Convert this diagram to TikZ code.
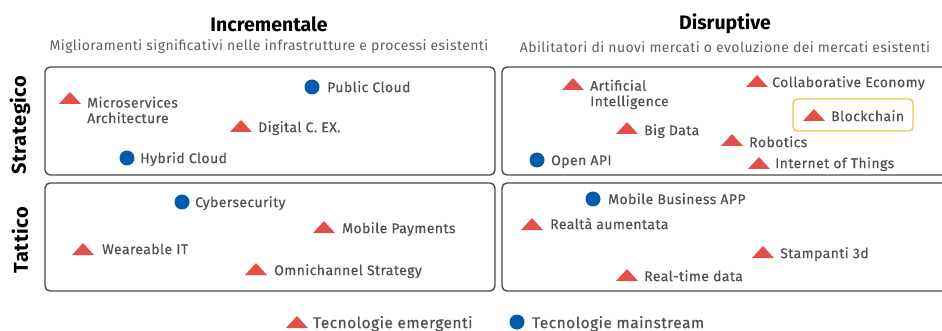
\documentclass[tikz,border=0pt]{standalone}
\usepackage{fontspec}
\setmainfont{Fira Sans}
\newfontfamily\lblfont[LetterSpace=3.0,FakeBold=0.35]{Fira Sans}
\newfontfamily\subfont[LetterSpace=3.0]{Fira Sans}
\newfontfamily\sidefont[LetterSpace=3.0]{Fira Sans}
\definecolor{trired}{HTML}{E2504C}
\definecolor{dotblue}{HTML}{005BAA}
\definecolor{txtgray}{HTML}{505050}
\definecolor{subgray}{HTML}{5E5E5E}
\definecolor{framegray}{HTML}{4A4A4A}
\definecolor{hlyellow}{HTML}{F2C24E}
\tikzset{
  quad/.style={draw=framegray, line width=1.4pt, rounded corners=5pt},
  trimark/.style={rectangle, inner sep=0pt, minimum width=22pt, minimum height=12pt,
    path picture={\fill[trired] (path picture bounding box.south west) -- (path picture bounding box.south east) -- (path picture bounding box.north) -- cycle;}},
  dotmark/.style={circle, fill=dotblue, inner sep=0pt, minimum size=15pt},
  lbl/.style={anchor=mid west, yshift=-2.5pt, inner sep=0pt, text=txtgray, font=\lblfont\fontsize{14}{15.5}\selectfont, align=left},
  lbltwo/.style={anchor=west, inner sep=0pt, text=txtgray, font=\lblfont\fontsize{14}{15.5}\selectfont, align=left},
  title/.style={font=\fontsize{19.5}{22}\selectfont\bfseries, text=black, inner sep=0pt},
  subtitle/.style={font=\subfont\fontsize{14}{16}\selectfont, text=subgray, inner sep=0pt},
  sidelbl/.style={font=\sidefont\fontsize{20}{22}\selectfont\bfseries, text=black, inner sep=0pt, rotate=90},
  hlbox/.style={draw=hlyellow, line width=1.4pt, rounded corners=4pt, minimum width=120pt, minimum height=32pt, inner sep=0pt},
}
\begin{document}
\begin{tikzpicture}[x=1pt,y=-1pt]
\useasboundingbox (0,0) rectangle (942,331);
% headers
\node[title] (hinc) at (269,24) {Incrementale};
\node[subtitle] (sinc) at (269,47) {Miglioramenti significativi nelle infrastrutture e processi esistenti};
\node[title] (hdis) at (725,24) {Disruptive};
\node[subtitle] (sdis) at (725,47) {Abilitatori di nuovi mercati o evoluzione dei mercati esistenti};
\node[sidelbl] (sstr) at (20,125) {Strategico};
\node[sidelbl] (stat) at (20,240) {Tattico};
% quadrants
\draw[quad] (45,67) rectangle (495,175);
\draw[quad] (502,67) rectangle (960,175);
\draw[quad] (45,183) rectangle (495,291);
\draw[quad] (502,183) rectangle (960,291);
\node[hlbox] (hl) at (853,115) {};
% top-left
\node[dotmark] (m1) at (312,87) {};   \node[lbl] (l1) at (327,87) {Public Cloud};
\node[trimark] (m2) at (70,98) {};    \node[lbltwo] (l2) at (87,110) {Microservices\\Architecture};
\node[trimark] (m3) at (241,126) {};  \node[lbl] (l3) at (258,127) {Digital C. EX.};
\node[dotmark] (m4) at (127,158) {};  \node[lbl] (l4) at (140,158) {Hybrid Cloud};
% top-right
\node[trimark] (m5) at (573,84) {};   \node[lbltwo] (l5) at (590,94.5) {Artificial\\Intelligence};
\node[trimark] (m6) at (757,81) {};   \node[lbl] (l6) at (772,82) {Collaborative Economy};
\node[trimark] (m7) at (814,115) {};  \node[lbl] (l7) at (831,116) {Blockchain};
\node[trimark] (m8) at (627,128) {};  \node[lbl] (l8) at (644,130) {Big Data};
\node[trimark] (m9) at (732,140) {};  \node[lbl] (l9) at (749,142) {Robotics};
\node[dotmark] (m10) at (537,160) {}; \node[lbl] (l10) at (551,160) {Open API};
\node[trimark] (m11) at (759,163) {}; \node[lbl] (l11) at (775,163) {Internet of Things};
% bottom-left
\node[dotmark] (m12) at (182,202) {}; \node[lbl] (l12) at (195,202) {Cybersecurity};
\node[trimark] (m13) at (324,227) {}; \node[lbl] (l13) at (342,228) {Mobile Payments};
\node[trimark] (m14) at (83,249) {};  \node[lbl] (l14) at (102,249) {Weareable IT};
\node[trimark] (m15) at (256,269) {}; \node[lbl] (l15) at (274,270) {Omnichannel Strategy};
% bottom-right
\node[dotmark] (m16) at (593,199) {}; \node[lbl] (l16) at (608,199) {Mobile Business APP};
\node[trimark] (m17) at (532,224) {}; \node[lbl] (l17) at (550,224) {Realtà aumentata};
\node[trimark] (m18) at (763,252) {}; \node[lbl] (l18) at (780,253) {Stampanti 3d};
\node[trimark] (m19) at (627,275) {}; \node[lbl] (l19) at (644,276) {Real-time data};
% legend
\node[trimark] (lg1) at (297,322) {}; \node[lbl, font=\lblfont\fontsize{15.5}{17}\selectfont] (lt1) at (313,323) {Tecnologie emergenti};
\node[dotmark] (lg2) at (517,322) {}; \node[lbl, font=\lblfont\fontsize{15.5}{17}\selectfont] (lt2) at (532,323) {Tecnologie mainstream};
\end{tikzpicture}
\end{document}
